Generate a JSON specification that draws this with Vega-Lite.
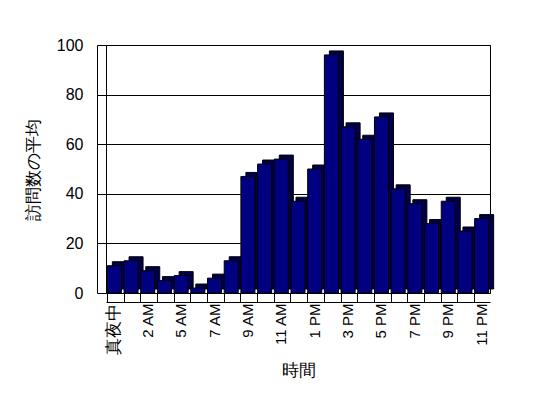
{
  "$schema": "https://vega.github.io/schema/vega-lite/v6.json",
  "autosize": "none",
  "width": 384,
  "height": 248,
  "padding": {"left": 106, "top": 45, "right": 58, "bottom": 105},
  "background": "white",
  "config": {
    "font": "Liberation Sans",
    "view": {"stroke": "black", "strokeWidth": 1}
  },
  "data": {
    "values": [
      {"hour": "真夜中", "visits": 11},
      {"hour": "1 AM", "visits": 13},
      {"hour": "2 AM", "visits": 9},
      {"hour": "3 AM", "visits": 5},
      {"hour": "5 AM", "visits": 7},
      {"hour": "6 AM", "visits": 2},
      {"hour": "7 AM", "visits": 6},
      {"hour": "8 AM", "visits": 13},
      {"hour": "9 AM", "visits": 47},
      {"hour": "10 AM", "visits": 52},
      {"hour": "11 AM", "visits": 54},
      {"hour": "正午", "visits": 37},
      {"hour": "1 PM", "visits": 50},
      {"hour": "2 PM", "visits": 96},
      {"hour": "3 PM", "visits": 67},
      {"hour": "4 PM", "visits": 62},
      {"hour": "5 PM", "visits": 71},
      {"hour": "6 PM", "visits": 42},
      {"hour": "7 PM", "visits": 36},
      {"hour": "8 PM", "visits": 28},
      {"hour": "9 PM", "visits": 37},
      {"hour": "10 PM", "visits": 25},
      {"hour": "11 PM", "visits": 30}
    ]
  },
  "encoding": {
    "x": {
      "field": "hour",
      "type": "nominal",
      "sort": null,
      "title": "時間",
      "scale": {"paddingInner": 0.16, "paddingOuter": 0.08},
      "axis": {
        "labelExpr": "indexof(['真夜中','2 AM','5 AM','7 AM','9 AM','11 AM','1 PM','3 PM','5 PM','7 PM','9 PM','11 PM'], datum.value) >= 0 ? datum.value : ''",
        "labelAngle": -90,
        "labelFontSize": {"condition": {"test": "datum.value == '真夜中'", "value": 17}, "value": 15},
        "labelColor": "black",
        "labelPadding": 10,
        "labelOverlap": false,
        "offset": 9,
        "domain": true,
        "domainColor": "black",
        "domainWidth": 1,
        "ticks": true,
        "bandPosition": 0,
        "tickSize": -9,
        "tickColor": "black",
        "titleFontSize": 17,
        "titleFontWeight": "normal",
        "titleColor": "black",
        "titlePadding": 8
      }
    },
    "y": {
      "field": "visits",
      "type": "quantitative",
      "title": "訪問数の平均",
      "scale": {"domain": [0, 100], "nice": false},
      "axis": {
        "values": [0, 20, 40, 60, 80, 100],
        "labelFontSize": 16,
        "labelColor": "black",
        "offset": 9,
        "domain": true,
        "domainWidth": 1,
        "domainColor": "black",
        "tickSize": -9,
        "tickColor": "black",
        "labelPadding": 23,
        "gridColor": "black",
        "gridOpacity": 1,
        "titleFontSize": 17,
        "titleFontWeight": "normal",
        "titleColor": "black",
        "titlePadding": 14
      }
    }
  },
  "layer": [
    {
      "mark": {"type": "bar", "color": "#000048", "stroke": "black", "strokeWidth": 1, "xOffset": 5, "yOffset": -4, "y2Offset": -4}
    },
    {
      "mark": {"type": "bar", "color": "#000080", "stroke": "black", "strokeWidth": 1}
    }
  ]
}
